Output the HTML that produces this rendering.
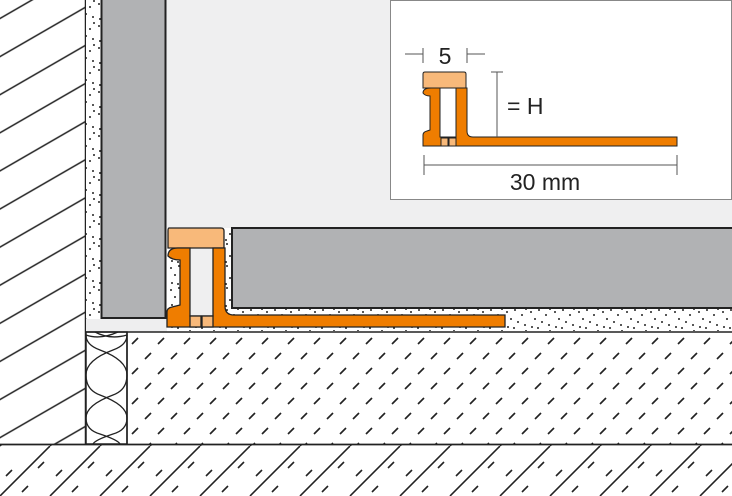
<!DOCTYPE html>
<html><head><meta charset="utf-8"><style>html,body{margin:0;padding:0;background:#fff}svg{display:block}</style></head><body>
<svg width="732" height="496" viewBox="0 0 732 496" xmlns="http://www.w3.org/2000/svg" font-family="Liberation Sans, sans-serif">
<defs>
<pattern id="wall" width="33" height="33" patternUnits="userSpaceOnUse" patternTransform="rotate(-30)">
<line x1="0" y1="16" x2="33" y2="16" stroke="#222" stroke-width="1.6"/>
</pattern>
<pattern id="screed" width="26" height="30" patternUnits="userSpaceOnUse" patternTransform="translate(310,334)">
<line x1="4" y1="10" x2="10" y2="4" stroke="#222" stroke-width="1.7"/>
<line x1="17" y1="25" x2="23" y2="19" stroke="#222" stroke-width="1.7"/>
</pattern>
<pattern id="slab" width="50" height="50" patternUnits="userSpaceOnUse" patternTransform="translate(0,446)">
<line x1="0" y1="50" x2="50" y2="0" stroke="#222" stroke-width="1.6"/>
<line x1="-50" y1="50" x2="0" y2="0" stroke="#222" stroke-width="1.6"/>
<line x1="50" y1="50" x2="100" y2="0" stroke="#222" stroke-width="1.6"/>
<line x1="22" y1="46" x2="28" y2="40" stroke="#222" stroke-width="1.6"/>
<line x1="38" y1="22" x2="44" y2="16" stroke="#222" stroke-width="1.6"/>
<line x1="6" y1="30" x2="12" y2="24" stroke="#222" stroke-width="1.6"/>
</pattern>
<pattern id="dots" width="24" height="22" patternUnits="userSpaceOnUse">
<rect width="24" height="22" fill="#fff"/>
<g fill="#222"><circle cx="3" cy="4" r="1"/><circle cx="11" cy="2" r="1"/><circle cx="18" cy="7" r="1"/><circle cx="7" cy="11" r="1"/><circle cx="14" cy="14" r="1"/><circle cx="21" cy="17" r="1"/><circle cx="4" cy="19" r="1"/><circle cx="22" cy="1" r="1"/><circle cx="10" cy="20" r="1"/></g>
</pattern>
</defs>
<rect width="732" height="496" fill="#fff"/>
<rect x="166" y="0" width="566" height="228" fill="#efeff0"/>
<rect x="0" y="0" width="85" height="444" fill="url(#wall)"/>
<line x1="85.5" y1="0" x2="85.5" y2="444" stroke="#222" stroke-width="1.5"/>
<rect x="86" y="0" width="15" height="318" fill="url(#dots)"/>
<rect x="101.5" y="-2" width="64" height="320" fill="#b1b2b4" stroke="#222" stroke-width="2"/>
<rect x="86" y="319" width="81" height="13" fill="#eeeeef"/>
<rect x="222" y="228" width="510" height="103" fill="url(#dots)"/>
<rect x="167" y="318" width="60" height="13" fill="url(#dots)"/>
<rect x="168" y="256" width="12" height="52" fill="url(#dots)"/>
<rect x="232" y="228" width="502" height="80" fill="#b1b2b4" stroke="#222" stroke-width="2"/>
<rect x="86" y="332" width="41" height="112" fill="#fff" stroke="#222" stroke-width="1.5"/>
<g fill="none" stroke="#222" stroke-width="1.3">
<path d="M86 335 Q86 345 100 350 Q127 360 127 375 M127 335 Q127 345 113 350 Q86 360 86 375"/>
<path d="M86 375 Q86 390 100 395 Q127 405 127 418 M127 375 Q127 390 113 395 Q86 405 86 418"/>
<path d="M86 418 Q86 430 100 434 Q118 440 120 444 M127 418 Q127 430 113 434 Q95 440 93 444"/>
<path d="M95 332 Q110 340 127 335 M118 332 Q100 340 86 335"/>
</g>
<rect x="127" y="332" width="605" height="112" fill="url(#screed)"/>
<line x1="85" y1="332" x2="732" y2="332" stroke="#222" stroke-width="1.5"/>
<line x1="127" y1="332" x2="127" y2="444" stroke="#222" stroke-width="1.5"/>
<rect x="0" y="445" width="732" height="51" fill="url(#slab)"/>
<line x1="0" y1="444.5" x2="732" y2="444.5" stroke="#222" stroke-width="1.8"/>
<g stroke="#222" stroke-width="1.3">
<rect x="191" y="248" width="22" height="68" fill="#efeff0" stroke="none"/>
<path d="M169 228 H221 Q224 228 224 231 V248 H168 V231 Q168 228 169 228 Z" fill="#f8b97a"/>
<path d="M178 248 H190 V316 H213 V248 H225 V306 Q225 315 234 315 H505 V327 H167 V312 Q167 308 172 307 L180 305 V260 Q172 260 168 256 Q168 248 178 248 Z" fill="#ef7d00"/>
<rect x="190" y="316" width="11" height="11" fill="#f8b97a"/>
<rect x="202" y="316" width="11" height="11" fill="#f8b97a"/>
</g>
<rect x="390.5" y="0.5" width="341" height="199" fill="#fff" stroke="#888" stroke-width="1"/>
<g stroke="#222" stroke-width="1">
<path d="M425 72 H464 Q466 72 466 74 V88 H423 V74 Q423 72 425 72 Z" fill="#f8b97a"/>
<path d="M431 88 H440 V137 H456 V88 H467 V131 Q467 137 473 137 H677 V146 H423 V135 Q423 132 427 131 L430 130 V96 Q425 96 423 93 Q423 88 431 88 Z" fill="#ef7d00"/>
<rect x="441" y="138" width="7" height="8" fill="#f8b97a"/>
<rect x="449" y="138" width="7" height="8" fill="#f8b97a"/>
</g>
<g stroke="#555" stroke-width="1" fill="none">
<path d="M423 48 V63 M467 48 V63 M405 54 H423 M467 54 H485"/>
<path d="M497 72 V137 M491 72 H503"/>
<path d="M424 165 H677 M424 155 V175 M677 155 V175"/>
</g>
<g fill="#222" font-size="23">
<text x="445" y="64" text-anchor="middle">5</text>
<text x="507" y="114">= H</text>
<text x="545" y="190" text-anchor="middle">30 mm</text>
</g>
</svg>
</body></html>
